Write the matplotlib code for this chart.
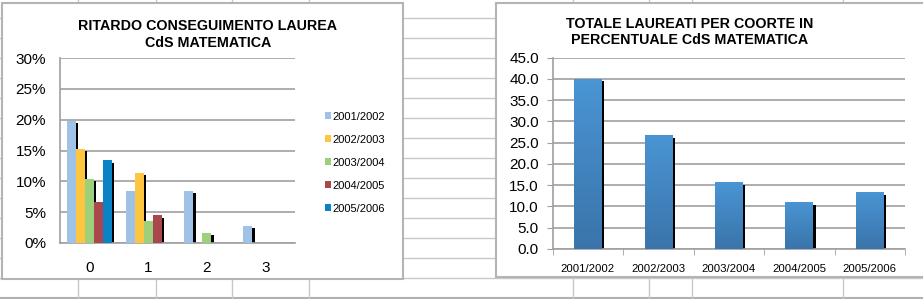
import numpy as np
import matplotlib.pyplot as plt
import matplotlib.transforms as mtransforms
from matplotlib.patches import Rectangle, Patch
from matplotlib.colors import LinearSegmentedColormap

plt.rcParams['font.family'] = ['Liberation Sans', 'DejaVu Sans']

# dati grafico sinistro (ritardo in anni)
ritardo = ['0', '1', '2', '3']
coorti = ['2001/2002', '2002/2003', '2003/2004', '2004/2005', '2005/2006']
perc_2001 = [19.8, 8.5, 8.5, 2.8]
perc_2002 = [15.3, 11.4, 0, 0]
perc_2003 = [10.4, 3.5, 1.7, 0]
perc_2004 = [6.6, 4.5, 0, 0]
perc_2005 = [13.4, 0, 0, 0]
serie_sx = [perc_2001, perc_2002, perc_2003, perc_2004, perc_2005]
colori_sx = ['#9fc3e7', '#fec640', '#9dd07a', '#a9474c', '#0a82c6']

# dati grafico destro
totale_laureati = [40.0, 26.8, 15.7, 11.0, 13.3]

W, H = 923, 299
fig = plt.figure(figsize=(W / 100, H / 100), dpi=100)
fig.patch.set_facecolor('white')

def px(x0, y0, x1, y1):
    # pixel (alto-sinistra) -> frazioni figura
    return [x0 / W, 1 - y1 / H, (x1 - x0) / W, (y1 - y0) / H]

# griglia del foglio di calcolo sullo sfondo
bg = fig.add_axes([0, 0, 1, 1])
bg.set_xlim(0, W)
bg.set_ylim(H, 0)
bg.axis('off')
for y in np.arange(17.7, 280, 20):
    bg.axhline(y, color='#c8c8c8', lw=1.0)
bg.axhline(297.5, color='#b0b0b0', lw=1.5)
for x in [78, 155.7, 232.3, 309.3, 572.7, 649.3, 691.7, 843.3]:
    bg.axvline(x, color='#c8c8c8', lw=1.0)

# pannelli dei grafici
bg.add_patch(Rectangle((2, 3), 401, 276, facecolor='white', edgecolor='#b4b4b4', lw=1.5, zorder=3))
bg.add_patch(Rectangle((496, 3), 430, 274, facecolor='white', edgecolor='#b4b4b4', lw=1.5, zorder=3))

shadow = mtransforms.ScaledTranslation(2.5 / 100, -2.5 / 100, fig.dpi_scale_trans)

# ---- grafico sinistro
ax1 = fig.add_axes(px(60, 58, 295, 243))
ax1.set_zorder(5)
ax1.patch.set_alpha(0)
x = np.arange(len(ritardo))
bw = 9 / 59
for i, (vals, col) in enumerate(zip(serie_sx, colori_sx)):
    pos = x + (i - 2) * bw
    ax1.bar(pos, vals, bw, color='black', zorder=2, transform=ax1.transData + shadow)
    ax1.bar(pos, vals, bw, color=col, zorder=3)
ax1.set_xlim(-0.5, 3.5)
ax1.set_ylim(0, 30)
ax1.set_yticks(np.arange(0, 31, 5))
ax1.set_yticklabels([f'{v}%' for v in range(0, 31, 5)])
ax1.set_xticks(x)
ax1.set_xticklabels(ritardo)
ax1.tick_params(axis='both', length=0, labelsize=11)
ax1.tick_params(axis='y', pad=10)
ax1.tick_params(axis='x', pad=13)
ax1.yaxis.grid(True, color='#a0a0a0', lw=1.2)
ax1.set_axisbelow(True)
for s in ['top', 'right']:
    ax1.spines[s].set_visible(False)
for s in ['left', 'bottom']:
    ax1.spines[s].set_color('#a0a0a0')
    ax1.spines[s].set_linewidth(1.2)
fig.text(208 / W, 1 - 34.5 / H, 'RITARDO CONSEGUIMENTO LAUREA\nCdS MATEMATICA', ha='center', va='center',
         fontsize=10.3, fontweight='bold', linespacing=1.25)
handles = [Patch(facecolor=c) for c in colori_sx]
ax1.legend(handles, coorti, loc='upper left', bbox_to_anchor=(319 / W, 1 - 106 / H),
           bbox_transform=fig.transFigure, frameon=False, fontsize=8, handlelength=0.55,
           handleheight=0.55, handletextpad=0.2, labelspacing=1.17, borderpad=0)

# ---- grafico destro
ax2 = fig.add_axes(px(552.7, 57.7, 905, 249))
ax2.set_zorder(5)
ax2.patch.set_alpha(0)
x2 = np.arange(len(coorti))
bw2 = 27.7 / 70.5
ax2.bar(x2, totale_laureati, bw2, color='black', zorder=2, transform=ax2.transData + shadow)
barre = ax2.bar(x2, totale_laureati, bw2, color='none', zorder=3)
grad = np.linspace(0, 1, 256).reshape(-1, 1)
cmap = LinearSegmentedColormap.from_list('blu', ['#3a74aa', '#4a95d4'])
for b in barre:
    bx, by = b.get_x(), b.get_y()
    im = ax2.imshow(grad, cmap=cmap, aspect='auto', origin='lower', zorder=3,
                    extent=[bx, bx + b.get_width(), by, by + b.get_height()])
    im.set_clip_path(b)
ax2.set_xlim(-0.5, 4.5)
ax2.set_ylim(0, 45)
ax2.set_yticks(np.arange(0, 46, 5))
ax2.set_yticklabels([f'{v:.1f}' for v in range(0, 46, 5)])
ax2.set_xticks(x2)
ax2.set_xticklabels(coorti)
ax2.set_xticks(np.arange(-0.5, 5, 1), minor=True)
ax2.tick_params(axis='x', which='major', length=0, labelsize=8.2, pad=11)
ax2.tick_params(axis='x', which='minor', length=4, color='#a0a0a0', direction='out')
ax2.tick_params(axis='y', length=4, color='#a0a0a0', labelsize=11, pad=6)
ax2.yaxis.grid(True, color='#a0a0a0', lw=1.2)
ax2.set_axisbelow(True)
for s in ['top', 'right']:
    ax2.spines[s].set_visible(False)
for s in ['left', 'bottom']:
    ax2.spines[s].set_color('#a0a0a0')
    ax2.spines[s].set_linewidth(1.2)
fig.text(690 / W, 1 - 32 / H, 'TOTALE LAUREATI PER COORTE IN\nPERCENTUALE CdS MATEMATICA', ha='center', va='center',
         fontsize=10.3, fontweight='bold', linespacing=1.25)

fig.savefig('out.png', dpi=100)
